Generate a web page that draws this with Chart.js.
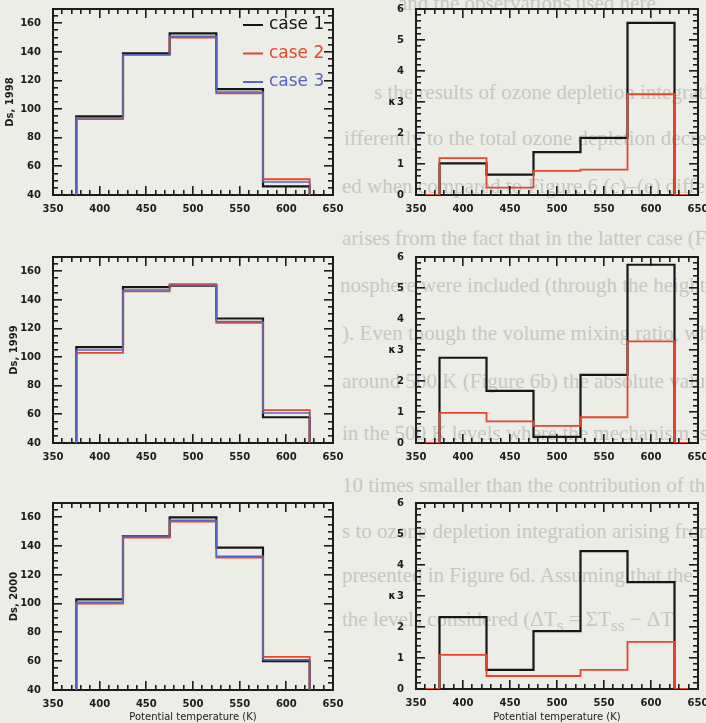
<!DOCTYPE html>
<html>
<head>
<meta charset="utf-8">
<script src="https://cdn.jsdelivr.net/npm/chart.js@4.4.0/dist/chart.umd.min.js"></script>
<style>
  body { margin:0; width:706px; height:723px; overflow:hidden; background:#ecede6; position:relative; }
  #page { position:absolute; left:338px; top:0; width:368px; height:723px; overflow:hidden; }
  #page div { position:absolute; white-space:nowrap; font:21px "Liberation Serif", serif; color:#c6c8c0; line-height:24px; }
  canvas { position:absolute; }
</style>
<script>
// bins of potential temperature (K)
var thetaCentres = [400, 450, 500, 550, 600];
var binWidth = 50;
var thetaRange = [350, 650];

// Ds per bin, one array per year and case
var ds1998Case1 = [95, 139, 153, 114, 46];
var ds1998Case2 = [93, 138, 150, 111, 51];
var ds1998Case3 = [94, 138, 151, 112, 49];
var ds1999Case1 = [107, 149, 150, 127, 58];
var ds1999Case2 = [103, 146, 151, 124, 63];
var ds1999Case3 = [105, 147, 150, 125, 61];
var ds2000Case1 = [103, 147, 160, 139, 60];
var ds2000Case2 = [100, 146, 157, 132, 63];
var ds2000Case3 = [101, 147, 158, 133, 61];

// kappa per bin
var k1998Case1 = [1.02, 0.66, 1.38, 1.84, 5.55];
var k1998Case2 = [1.19, 0.24, 0.78, 0.82, 3.25];
var k1999Case1 = [2.75, 1.68, 0.2, 2.2, 5.75];
var k1999Case2 = [0.97, 0.7, 0.55, 0.83, 3.28];
var k2000Case1 = [2.32, 0.62, 1.87, 4.45, 3.45];
var k2000Case2 = [1.1, 0.42, 0.42, 0.62, 1.52];

var caseNames = ['case 1', 'case 2', 'case 3'];
var caseColors = ['#161616', '#e4472e', '#5566c2'];
var caseWidths = [2.2, 1.8, 1.5];

var tickFont = { family: 'DejaVu Sans', size: 10, weight: 'bold' };
var ink = '#1c1c1c';

// histogram outline: zero outside the bins, one step per bin
function stepPoints(values) {
  var pts = [{x: thetaRange[0], y: 0}];
  for (var i = 0; i < values.length; i++) {
    pts.push({x: thetaCentres[i] - binWidth / 2, y: values[i]});
  }
  pts.push({x: thetaCentres[values.length - 1] + binWidth / 2, y: 0});
  pts.push({x: thetaRange[1], y: 0});
  return pts;
}

// inward tick marks on all four sides of the plot box
function drawTicks(chart, yMinor, yEvery) {
  var ctx = chart.ctx, a = chart.chartArea, sx = chart.scales.x, sy = chart.scales.y;
  ctx.save();
  ctx.fillStyle = ink;
  var nx = Math.round((thetaRange[1] - thetaRange[0]) / 10);
  for (var i = 0; i <= nx; i++) {
    var len = (i % 5 === 0) ? 9 : 5;
    var px = Math.round(sx.getPixelForValue(thetaRange[0] + i * 10));
    ctx.fillRect(px - 1, a.bottom - len, 1.6, len);
    ctx.fillRect(px - 1, a.top, 1.6, len);
  }
  var ny = Math.round((sy.max - sy.min) / yMinor);
  for (var j = 0; j <= ny; j++) {
    var l2 = (j % yEvery === 0) ? 9 : 5;
    var py = Math.round(sy.getPixelForValue(sy.min + j * yMinor));
    ctx.fillRect(a.left, py - 1, l2, 1.6);
    ctx.fillRect(a.right - l2, py - 1, l2, 1.6);
  }
  ctx.restore();
}

// IDL-like frame: box drawn under the curves, ticks on top
function frame(yMinor, yEvery) {
  return {
    id: 'frame',
    beforeDatasetsDraw: function(chart) {
      var ctx = chart.ctx, a = chart.chartArea;
      ctx.save();
      ctx.strokeStyle = ink;
      ctx.lineWidth = 2;
      ctx.strokeRect(a.left, a.top, a.right - a.left, a.bottom - a.top);
      ctx.restore();
    },
    afterDraw: function(chart) {
      drawTicks(chart, yMinor, yEvery);
    }
  };
}

var caseLegend = {
  id: 'caseLegend',
  afterDatasetsDraw: function(chart) {
    var ctx = chart.ctx, a = chart.chartArea;
    ctx.save();
    ctx.font = '17px "DejaVu Sans"';
    ctx.textBaseline = 'middle';
    for (var i = 0; i < caseNames.length; i++) {
      var yy = a.top + 16 + i * 28.5;
      ctx.strokeStyle = caseColors[i];
      ctx.lineWidth = 2;
      ctx.beginPath();
      ctx.moveTo(a.right - 90, yy); ctx.lineTo(a.right - 70, yy);
      ctx.stroke();
      ctx.fillStyle = caseColors[i];
      ctx.fillText(caseNames[i], a.right - 64, yy);
    }
    ctx.restore();
  }
};

var kappaLabel = {
  id: 'kappaLabel',
  afterDraw: function(chart) {
    var ctx = chart.ctx;
    ctx.save();
    ctx.font = 'bold 10px "DejaVu Sans"';
    ctx.fillStyle = ink;
    ctx.textAlign = 'center';
    ctx.textBaseline = 'middle';
    ctx.fillText('κ', chart.chartArea.left - 24, chart.scales.y.getPixelForValue(3));
    ctx.restore();
  }
};

function panel(id, p) {
  var sets = [];
  for (var i = 0; i < p.series.length; i++) {
    sets.push({
      label: caseNames[i],
      data: stepPoints(p.series[i]),
      stepped: 'before',
      borderColor: caseColors[i],
      borderWidth: caseWidths[i],
      pointRadius: 0,
      fill: false,
      order: p.series.length - i
    });
  }
  var extras = [frame(p.yMinor, p.yEvery)];
  if (p.legend) extras.push(caseLegend);
  if (p.kappa) extras.push(kappaLabel);
  return new Chart(document.getElementById(id), {
    type: 'line',
    data: { datasets: sets },
    options: {
      responsive: false,
      animation: false,
      events: [],
      layout: { padding: { top: 9, right: p.padRight, left: 0, bottom: 0 } },
      scales: {
        x: {
          type: 'linear', min: thetaRange[0], max: thetaRange[1],
          grid: { display: false }, border: { display: false },
          ticks: { stepSize: 50, includeBounds: false, padding: 0, maxRotation: 0, color: ink, font: tickFont },
          title: { display: !!p.xTitle, text: p.xTitle || '', padding: 0, color: ink,
                   font: { family: 'DejaVu Sans', size: 10 } },
          afterFit: function(s) { s.height = p.xHeight; s.paddingLeft = 0; s.paddingRight = 0; }
        },
        y: {
          type: 'linear', min: p.yMin, max: p.yMax,
          grid: { display: false }, border: { display: false },
          ticks: { stepSize: p.yStep, includeBounds: false, padding: 4, color: ink, font: tickFont },
          title: { display: !!p.yTitle, text: p.yTitle || '', padding: { top: p.yTitlePad, bottom: 0 }, color: ink,
                   font: { family: 'DejaVu Sans', size: 10, weight: 'bold' } },
          afterFit: function(s) { s.width = p.yWidth; s.paddingTop = 0; s.paddingBottom = 0; }
        }
      },
      plugins: { legend: { display: false }, tooltip: { enabled: false } }
    },
    plugins: extras
  });
}

function dsPanel(id, year, s1, s2, s3, extra) {
  var p = { series: [s1, s2, s3], yMin: 40, yMax: 170, yStep: 20, yMinor: 5, yEvery: 4,
            yWidth: 53, padRight: 12, xHeight: 30, yTitle: 'Ds, ' + year, yTitlePad: 8 };
  for (var k in extra) p[k] = extra[k];
  return panel(id, p);
}

function kPanel(id, s1, s2, extra) {
  var p = { series: [s1, s2], yMin: 0, yMax: 6, yStep: 1, yMinor: 0.2, yEvery: 5,
            yWidth: 63, padRight: 8, xHeight: 30, kappa: true };
  for (var k in extra) p[k] = extra[k];
  return panel(id, p);
}

window.onload = function() {
  dsPanel('ds1998', 1998, ds1998Case1, ds1998Case2, ds1998Case3, { legend: true, yTitlePad: 4 });
  dsPanel('ds1999', 1999, ds1999Case1, ds1999Case2, ds1999Case3, {});
  dsPanel('ds2000', 2000, ds2000Case1, ds2000Case2, ds2000Case3,
          { xHeight: 33, xTitle: 'Potential temperature (K)' });
  kPanel('k1998', k1998Case1, k1998Case2, {});
  kPanel('k1999', k1999Case1, k1999Case2, {});
  kPanel('k2000', k2000Case1, k2000Case2, { xHeight: 34, xTitle: 'Potential temperature (K)' });
};
</script>
</head>
<body>
<div id="page">
  <div style="left:60px;top:-9px">and the observations used here.</div>
  <div style="left:36px;top:80px">s the results of ozone depletion integration in</div>
  <div style="left:6px;top:126px">ifferently to the total ozone depletion decrease w</div>
  <div style="left:4px;top:174px">ed when compared to Figure 6 (c)–(e) differences b</div>
  <div style="left:4px;top:226px">arises from the fact that in the latter case (Figure</div>
  <div style="left:2px;top:273px">nosphere were included (through the height and</div>
  <div style="left:4px;top:321px">). Even though the volume mixing ratio, which</div>
  <div style="left:4px;top:369px">around 500 K (Figure 6b) the absolute values</div>
  <div style="left:4px;top:421px">in the 500 K levels where the mechanism is</div>
  <div style="left:4px;top:473px">10 times smaller than the contribution of the</div>
  <div style="left:4px;top:519px">s to ozone depletion integration arising from the</div>
  <div style="left:4px;top:563px">presented in Figure 6d. Assuming that the</div>
  <div style="left:4px;top:607px">the levels considered (ΔT<sub>s</sub> = ΣT<sub>ss</sub> − ΔT</div>
</div>
<canvas id="ds1998" width="345" height="225" style="left:0;top:0"></canvas>
<canvas id="ds1999" width="345" height="225" style="left:0;top:248px"></canvas>
<canvas id="ds2000" width="345" height="229" style="left:0;top:494px"></canvas>
<canvas id="k1998" width="353" height="225" style="left:353px;top:0"></canvas>
<canvas id="k1999" width="353" height="225" style="left:353px;top:248px"></canvas>
<canvas id="k2000" width="353" height="229" style="left:353px;top:494px"></canvas>
</body>
</html>
